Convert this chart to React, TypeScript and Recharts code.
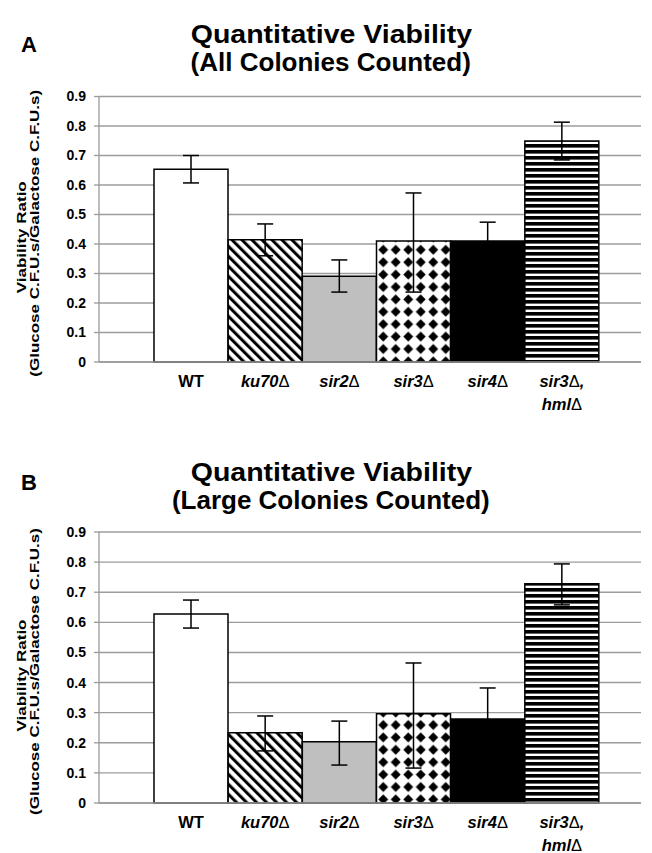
import React from 'react';
import { BarChart, Bar, XAxis, YAxis, CartesianGrid, Cell, ErrorBar } from 'recharts';

const categories = ['WT', 'ku70Δ', 'sir2Δ', 'sir3Δ', 'sir4Δ', 'sir3Δ, hmlΔ'];

const allValues = [0.653, 0.414, 0.291, 0.41, 0.41, 0.749];
const allErrLow = [0.046, 0.054, 0.054, 0.173, 0.064, 0.064];
const allErrHigh = [0.047, 0.054, 0.055, 0.163, 0.064, 0.064];

const largeValues = [0.628, 0.233, 0.203, 0.296, 0.279, 0.728];
const largeErrLow = [0.047, 0.06, 0.077, 0.18, 0.103, 0.07];
const largeErrHigh = [0.046, 0.056, 0.069, 0.169, 0.103, 0.066];

const yTicks = [0, 0.1, 0.2, 0.3, 0.4, 0.5, 0.6, 0.7, 0.8, 0.9];

const barFills = ['#ffffff', 'url(#diagStripes)', '#bfbfbf', 'url(#diamonds)', '#000000', 'url(#hStripes)'];

const FONT = '"Liberation Sans", Arial, Helvetica, sans-serif';

function buildData(values: number[], low: number[], high: number[]) {
  return categories.map((c, i) => ({ name: c, value: values[i], err: [low[i], high[i]] }));
}

function renderWithDelta(text: string, keyBase: string) {
  const pieces = text.split('Δ');
  const out: any[] = [];
  pieces.forEach((p, i) => {
    if (p) out.push(<tspan key={keyBase + 't' + i}>{p}</tspan>);
    if (i < pieces.length - 1) out.push(<tspan key={keyBase + 'd' + i} fontStyle="normal" fontWeight="normal">Δ</tspan>);
  });
  return out;
}

const CategoryTick = (props: any) => {
  const { x, y, payload } = props;
  const label = String(payload.value);
  const parts = label.split(', ');
  const italic = label !== 'WT';
  return (
    <g>
      {parts.map((p, i) => (
        <text key={i} x={x} y={y + 25 + i * 23} textAnchor="middle" fontFamily={FONT} fontSize={16.5} fontWeight="bold"
          fontStyle={italic ? 'italic' : 'normal'} fill="#000">
          {renderWithDelta(i < parts.length - 1 ? p + ',' : p, 'l' + i)}
        </text>
      ))}
    </g>
  );
};

const YLabel = (props: any) => {
  const vb = props.viewBox || { x: 0, y: 0, width: 0, height: 0 };
  const cy = vb.y + vb.height / 2;
  return (
    <g fontFamily={FONT} fontWeight="bold" fontSize={17} fill="#000">
      <text transform={`translate(21, ${cy + 8}) rotate(-90) scale(1, 0.74)`} textAnchor="middle" dominantBaseline="central">Viability Ratio</text>
      <text transform={`translate(34, ${cy + 4}) rotate(-90) scale(1, 0.74)`} textAnchor="middle" dominantBaseline="central">(Glucose C.F.U.s/Galactose C.F.U.s)</text>
    </g>
  );
};

const titleLine: React.CSSProperties = {
  position: 'absolute', left: 0, width: 662, textAlign: 'center', fontFamily: FONT, fontWeight: 'bold',
  fontSize: 25, lineHeight: '28px', height: 28, color: '#000', whiteSpace: 'nowrap',
};

function Panel({ top, letter, subtitle, values, low, high, plotTop, plotBottom }: any) {
  const H = 440;
  const xAxisH = 60;
  const data = buildData(values, low, high);
  return (
    <div style={{ position: 'absolute', left: 0, top, width: 652, height: H }}>
      <div style={{ position: 'absolute', left: 21, top: 33, fontFamily: FONT, fontWeight: 'bold', fontSize: 22, lineHeight: '24px' }}>{letter}</div>
      <div style={{ ...titleLine, top: 20.3 }}>
        <span style={{ display: 'inline-block', transform: 'scaleX(1.14)' }}>Quantitative Viability</span>
      </div>
      <div style={{ ...titleLine, top: 48.3 }}>
        <span style={{ display: 'inline-block', transform: 'scaleX(1.04)' }}>{subtitle}</span>
      </div>
      <div style={{ position: 'absolute', left: 0, top: 0 }}>
        <BarChart width={652} height={H} data={data}
          margin={{ top: plotTop, right: 11, left: 0, bottom: H - xAxisH - plotBottom }}
          barCategoryGap={0} barGap={0}>
          <CartesianGrid vertical={false} stroke="#9c9c9c" strokeWidth={1.4} />
          <XAxis dataKey="name" interval={0} height={xAxisH} tickSize={0} tickMargin={0}
            padding={{ left: 55, right: 42 }} tick={<CategoryTick />} axisLine={{ stroke: '#9a9a9a', strokeWidth: 1.5 }} tickLine={false} />
          <YAxis width={99} domain={[0, 0.9]} ticks={yTicks} interval={0} tickSize={5} tickMargin={8}
            axisLine={{ stroke: '#9a9a9a', strokeWidth: 1.3 }} tickLine={{ stroke: '#9a9a9a', strokeWidth: 1.3 }}
            tick={{ fontFamily: FONT, fontSize: 14, fontWeight: 'bold', fill: '#000' }}
            label={<YLabel />} />
          <Bar dataKey="value" isAnimationActive={false} stroke="#000" strokeWidth={1.5}>
            {data.map((d, i) => (
              <Cell key={d.name} fill={barFills[i]} />
            ))}
            <ErrorBar dataKey="err" width={8} stroke="#000" strokeWidth={1.5} isAnimationActive={false} />
          </Bar>
        </BarChart>
      </div>
    </div>
  );
}

export default function App() {
  return (
    <div style={{ position: 'absolute', left: 0, top: 0, width: 652, height: 853, background: '#fff', overflow: 'hidden' }}>
      <svg width={0} height={0} style={{ position: 'absolute' }}>
        <defs>
          <pattern id="diagStripes" width={7.07} height={7.07} patternUnits="userSpaceOnUse" patternTransform="rotate(-45)">
            <rect width={7.07} height={7.07} fill="#fff" />
            <rect width={3} height={7.07} fill="#000" />
          </pattern>
          <pattern id="diamonds" x={2} y={8} width={12.5} height={12.4} patternUnits="userSpaceOnUse">
            <rect width={12.5} height={12.4} fill="#fff" />
            <polygon points="6.25,1.2 11.2,6.2 6.25,11.2 1.3,6.2" fill="#000" />
          </pattern>
          <pattern id="hStripes" width={25.7} height={6} patternUnits="userSpaceOnUse">
            <rect width={25.7} height={6} fill="#fff" />
            <rect width={25.7} height={3.6} fill="#000" />
          </pattern>
        </defs>
      </svg>
      <Panel top={0} letter="A" subtitle="(All Colonies Counted)" values={allValues} low={allErrLow} high={allErrHigh} plotTop={96.5} plotBottom={362} />
      <Panel top={438} letter="B" subtitle="(Large Colonies Counted)" values={largeValues} low={largeErrLow} high={largeErrHigh} plotTop={94} plotBottom={365} />
    </div>
  );
}
